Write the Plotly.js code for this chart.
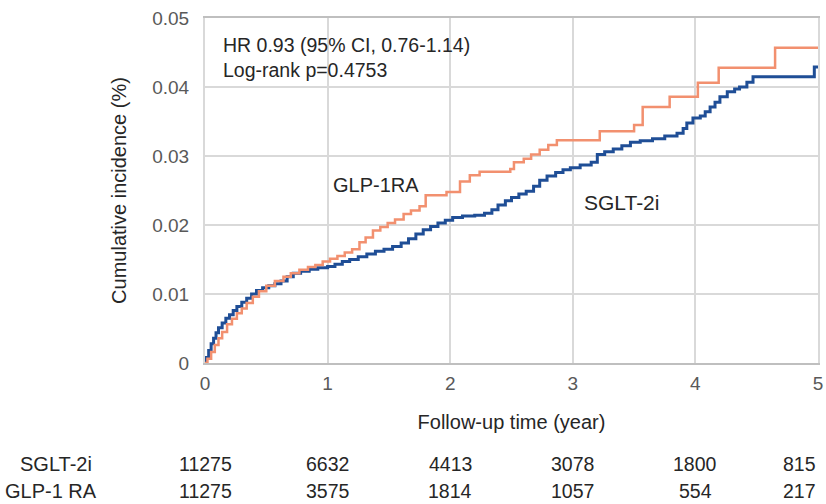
<!DOCTYPE html>
<html>
<head>
<meta charset="utf-8">
<script src="https://cdn.plot.ly/plotly-3.0.1.min.js"></script>
<style>html,body{margin:0;padding:0;background:#fff;}#chart{width:826px;height:504px;}</style>
</head>
<body>
<div id="chart"></div>
<script>
// Follow-up time (years) and cumulative incidence (%)
var sgltTime = [0, 0.01, 0.03, 0.05, 0.07, 0.09, 0.11, 0.14, 0.17, 0.2, 0.23, 0.26, 0.3, 0.34, 0.38, 0.42, 0.47, 0.52, 0.57, 0.62, 0.67, 0.72, 0.78, 0.85, 0.92, 1.0, 1.06, 1.12, 1.18, 1.25, 1.32, 1.39, 1.46, 1.53, 1.6, 1.66, 1.72, 1.78, 1.84, 1.9, 1.96, 2.02, 2.1, 2.2, 2.28, 2.34, 2.39, 2.45, 2.5, 2.56, 2.62, 2.68, 2.73, 2.79, 2.86, 2.92, 2.98, 3.06, 3.15, 3.2, 3.26, 3.33, 3.4, 3.47, 3.55, 3.65, 3.75, 3.85, 3.9, 3.93, 3.98, 4.04, 4.08, 4.12, 4.16, 4.2, 4.26, 4.32, 4.36, 4.42, 4.47, 4.97, 5.0];
var sgltInc  = [0, 0.0008, 0.0018, 0.0028, 0.0036, 0.0044, 0.0051, 0.0058, 0.0065, 0.0070, 0.0076, 0.0082, 0.0088, 0.0094, 0.0100, 0.0105, 0.0109, 0.0112, 0.0115, 0.0119, 0.0125, 0.0130, 0.0133, 0.0136, 0.0138, 0.0140, 0.0143, 0.0147, 0.0150, 0.0154, 0.0158, 0.0162, 0.0165, 0.0169, 0.0174, 0.0180, 0.0187, 0.0193, 0.0198, 0.0203, 0.0207, 0.0211, 0.0213, 0.0214, 0.0217, 0.0222, 0.0229, 0.0235, 0.0240, 0.0245, 0.0249, 0.0256, 0.0265, 0.0271, 0.0276, 0.0280, 0.0283, 0.0287, 0.0291, 0.0302, 0.0306, 0.0310, 0.0315, 0.0320, 0.0322, 0.0325, 0.0329, 0.0333, 0.0340, 0.0348, 0.0355, 0.0358, 0.0364, 0.0371, 0.0378, 0.0386, 0.0393, 0.0397, 0.0400, 0.0407, 0.0415, 0.0429, 0.0429];
var glpTime = [0, 0.02, 0.05, 0.08, 0.11, 0.14, 0.18, 0.22, 0.26, 0.3, 0.34, 0.39, 0.44, 0.5, 0.57, 0.64, 0.7, 0.77, 0.84, 0.9, 0.96, 1.02, 1.08, 1.14, 1.2, 1.26, 1.31, 1.37, 1.43, 1.49, 1.55, 1.62, 1.68, 1.75, 1.8, 1.97, 2.08, 2.16, 2.24, 2.49, 2.52, 2.6, 2.66, 2.73, 2.8, 2.87, 3.22, 3.5, 3.57, 3.79, 4.02, 4.19, 4.65, 5.0];
var glpInc  = [0, 0.0006, 0.0016, 0.0026, 0.0036, 0.0045, 0.0056, 0.0064, 0.0072, 0.0079, 0.0087, 0.0096, 0.0104, 0.0112, 0.0119, 0.0125, 0.0130, 0.0135, 0.0139, 0.0142, 0.0147, 0.0151, 0.0155, 0.0160, 0.0165, 0.0175, 0.0182, 0.0192, 0.0197, 0.0203, 0.0208, 0.0216, 0.0221, 0.0227, 0.0243, 0.0248, 0.0263, 0.0272, 0.0277, 0.0281, 0.0291, 0.0296, 0.0302, 0.0309, 0.0316, 0.0323, 0.0336, 0.0345, 0.0371, 0.0386, 0.0406, 0.0428, 0.0457, 0.0457];

// Number at risk table
var riskTimes = [0, 1, 2, 3, 4, 5];
var riskGroups = ['SGLT-2i', 'GLP-1 RA'];
var riskSglt = [11275, 6632, 4413, 3078, 1800, 815];
var riskGlp  = [11275, 3575, 1814, 1057, 554, 217];

var xTicks = [0, 1, 2, 3, 4, 5];
var yTicks = [0, 0.01, 0.02, 0.03, 0.04, 0.05];
var yTickText = ['0', '0.01', '0.02', '0.03', '0.04', '0.05'];

var FONT = 'Liberation Sans, Arial, sans-serif';
var TXT = '#262626';

var traces = [
  {x: sgltTime, y: sgltInc, mode: 'lines', line: {shape: 'hv', color: '#1F4E96', width: 3}, name: 'SGLT-2i', hoverinfo: 'skip'},
  {x: glpTime, y: glpInc, mode: 'lines', line: {shape: 'hv', color: '#F2906F', width: 2.5}, name: 'GLP-1RA', hoverinfo: 'skip'}
];

function py(p) { return (363 - p) / 345; }
function px(p) { return (p - 205) / 613; }

var annotations = [
  {xref: 'paper', yref: 'paper', x: px(221), y: py(45), xanchor: 'left', yanchor: 'middle', showarrow: false,
   text: 'HR 0.93 (95% CI, 0.76-1.14)', font: {family: FONT, size: 19.5, color: TXT}},
  {xref: 'paper', yref: 'paper', x: px(221), y: py(70), xanchor: 'left', yanchor: 'middle', showarrow: false,
   text: 'Log-rank p=0.4753', font: {family: FONT, size: 19.5, color: TXT}},
  {xref: 'x', yref: 'y', x: 1.395, y: 0.0258, xanchor: 'center', yanchor: 'middle', showarrow: false,
   text: 'GLP-1RA', font: {family: FONT, size: 20, color: TXT}},
  {xref: 'x', yref: 'y', x: 3.40, y: 0.0233, xanchor: 'center', yanchor: 'middle', showarrow: false,
   text: 'SGLT-2i', font: {family: FONT, size: 21, color: TXT}}
];

var rowY = [464, 491];
var rows = [riskSglt, riskGlp];
var labelX = [18, 3];
for (var r = 0; r < rows.length; r++) {
  annotations.push({xref: 'paper', yref: 'paper', x: px(labelX[r]), y: py(rowY[r]),
    xanchor: 'left', yanchor: 'middle', showarrow: false, text: riskGroups[r],
    font: {family: FONT, size: 20, color: TXT}});
  for (var i = 0; i < riskTimes.length; i++) {
    var last = i === riskTimes.length - 1;
    annotations.push({xref: 'x', yref: 'paper', x: riskTimes[i], y: py(rowY[r]),
      xanchor: last ? 'right' : 'center', yanchor: 'middle', showarrow: false, text: String(rows[r][i]),
      font: {family: FONT, size: 19.5, color: TXT}});
  }
}

var layout = {
  width: 826, height: 504,
  margin: {l: 205, r: 8, t: 18, b: 141},
  paper_bgcolor: '#ffffff', plot_bgcolor: '#ffffff',
  showlegend: false,
  xaxis: {
    range: [0, 5], tickvals: xTicks, ticktext: xTicks.map(String),
    showgrid: true, gridcolor: '#d9d9d9', gridwidth: 2,
    zeroline: false, showline: true, linecolor: '#bfbfbf', linewidth: 2, mirror: true,
    ticks: 'outside', ticklen: 2, tickcolor: 'rgba(0,0,0,0)',
    tickfont: {family: FONT, size: 19, color: '#595959'},
    title: {text: 'Follow-up time (year)', font: {family: FONT, size: 20, color: TXT}, standoff: 22},
    automargin: false, fixedrange: true
  },
  yaxis: {
    range: [0, 0.05], tickvals: yTicks, ticktext: yTickText,
    showgrid: true, gridcolor: '#d9d9d9', gridwidth: 2,
    zeroline: false, showline: true, linecolor: '#d9d9d9', linewidth: 2, mirror: true,
    ticks: 'outside', ticklen: 10, tickcolor: 'rgba(0,0,0,0)',
    tickfont: {family: FONT, size: 19, color: '#595959'},
    title: {text: 'Cumulative incidence (%)', font: {family: FONT, size: 20, color: TXT}, standoff: 20},
    automargin: false, fixedrange: true
  },
  annotations: annotations
};

Plotly.newPlot('chart', traces, layout, {staticPlot: true, displayModeBar: false});
</script>
</body>
</html>
